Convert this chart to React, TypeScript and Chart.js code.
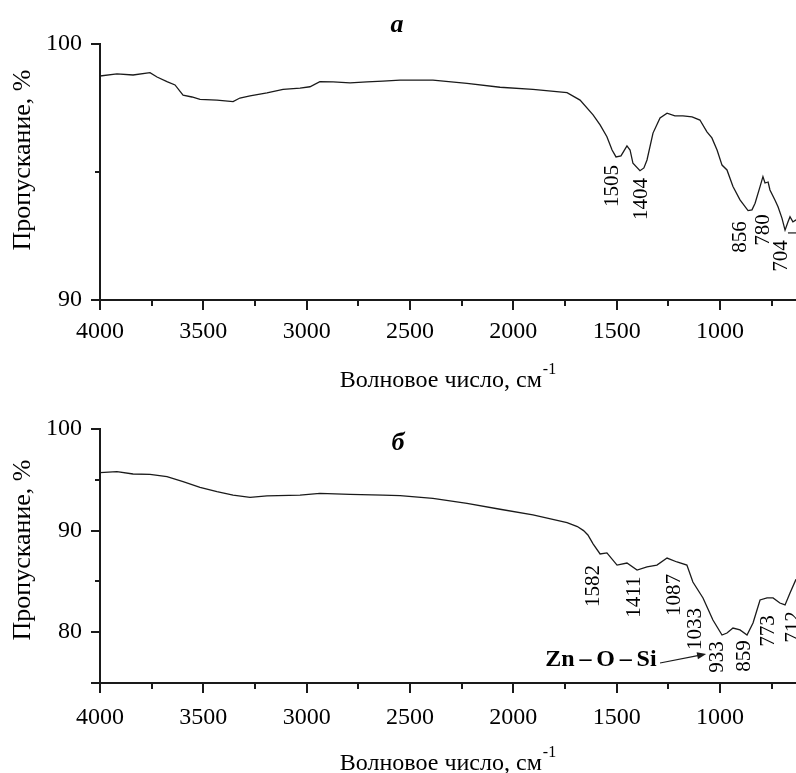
import React, { useEffect, useRef } from 'react';
import { Chart, registerables } from 'chart.js';

Chart.register(...registerables);

const FONT = "'Liberation Serif', 'Times New Roman', serif";
const INK = '#1a1a1a';
const TEXT = '#000000';

// ---- Panel а ----
const wavenumberA = [4000, 3918, 3840, 3758, 3724, 3676, 3637, 3598, 3555, 3516, 3434, 3356, 3323, 3274, 3192, 3114, 3032, 2984, 2936, 2872, 2790, 2708, 2631, 2548, 2389, 2224, 2064, 1905, 1740, 1677, 1614, 1580, 1547, 1522, 1503, 1479, 1450, 1435, 1421, 1387, 1368, 1353, 1324, 1290, 1256, 1218, 1179, 1135, 1097, 1063, 1039, 1014, 990, 966, 937, 903, 864, 845, 830, 806, 792, 782, 767, 758, 734, 719, 700, 685, 671, 661, 647, 632];
const transmittanceA = [98.75, 98.83, 98.79, 98.88, 98.71, 98.53, 98.4, 98.0, 97.93, 97.84, 97.81, 97.75, 97.89, 97.97, 98.09, 98.23, 98.28, 98.33, 98.53, 98.52, 98.48, 98.52, 98.55, 98.59, 98.59, 98.46, 98.31, 98.23, 98.1, 97.81, 97.23, 96.84, 96.38, 95.86, 95.59, 95.63, 96.02, 95.86, 95.34, 95.05, 95.16, 95.47, 96.52, 97.11, 97.3, 97.19, 97.19, 97.15, 97.03, 96.57, 96.33, 95.86, 95.27, 95.08, 94.43, 93.91, 93.49, 93.52, 93.78, 94.43, 94.82, 94.57, 94.61, 94.3, 93.91, 93.64, 93.2, 92.73, 93.05, 93.25, 93.05, 93.13];
const peakLabelsA = ['1505', '1404', '856', '780', '704'];
const peakPosXA = [1522, 1382, 903, 787, 700];
const peakPosYA = [94.45, 93.95, 92.46, 92.73, 91.72];
const yTicksA = [90, 100];
const yLabelsA = [90, 100];
const yMinorA = [95];

// ---- Panel б ----
const wavenumberB = [4000, 3918, 3840, 3758, 3676, 3598, 3516, 3434, 3356, 3274, 3192, 3032, 2936, 2790, 2631, 2548, 2389, 2224, 2064, 1905, 1740, 1690, 1660, 1639, 1614, 1580, 1547, 1498, 1450, 1401, 1353, 1305, 1256, 1208, 1160, 1131, 1082, 1034, 990, 966, 937, 903, 869, 840, 806, 772, 743, 710, 685, 661, 632];
const transmittanceB = [95.7, 95.8, 95.57, 95.54, 95.31, 94.81, 94.26, 93.83, 93.5, 93.28, 93.41, 93.5, 93.67, 93.57, 93.5, 93.45, 93.18, 92.69, 92.1, 91.54, 90.78, 90.4, 90.0, 89.57, 88.7, 87.7, 87.8, 86.61, 86.81, 86.12, 86.42, 86.61, 87.3, 86.91, 86.61, 84.94, 83.37, 81.2, 79.72, 79.92, 80.41, 80.22, 79.72, 80.91, 83.17, 83.37, 83.37, 82.87, 82.68, 83.86, 85.2];
const peakLabelsB = ['1582', '1411', '1087', '1033', '933', '859', '773', '712'];
const peakPosXB = [1610, 1416, 1222, 1116, 1014, 879, 763, 642];
const peakPosYB = [84.55, 83.46, 83.66, 80.31, 77.56, 77.66, 80.12, 80.51];
const yTicksB = [75, 80, 90, 100];
const yLabelsB = [80, 90, 100];
const yMinorB = [85, 95];
const bondLabelB = 'Zn\u2009–\u2009O\u2009–\u2009Si';
const bondLabelPos = [1576, 77.26];
const bondArrowFrom = [1290, 76.97];
const bondArrowTo = [1067, 77.85];

// ---- shared axis ----
const xMin = 632;
const xMax = 4000;
const xTickValues = [4000, 3500, 3000, 2500, 2000, 1500, 1000];
const xMinorTicks = [3750, 3250, 2750, 2250, 1750, 1250, 750];
const xTitle = 'Волновое число, см';
const xTitleSup = '-1';
const yTitle = 'Пропускание, %';

type PanelCfg = {
  top: number;
  height: number;
  wn: number[];
  tr: number[];
  yMin: number;
  yMax: number;
  yTicks: number[];
  yLabels: number[];
  yMinor: number[];
  padTop: number;
  xScaleHeight: number;
  xTickPad: number;
  letter: string;
  letterX: number;
  letterBase: number;
  yTitleCenter: number;
  labels: string[];
  labelX: number[];
  labelY: number[];
  leader?: [number, number, number];
  bond?: boolean;
};

function makeDecor(cfg: PanelCfg) {
  return {
    id: 'decor',
    afterDraw(chart: any) {
      const { ctx, chartArea } = chart;
      const x = chart.scales.x;
      const y = chart.scales.y;
      ctx.save();
      ctx.strokeStyle = INK;
      ctx.fillStyle = TEXT;
      ctx.lineWidth = 2;
      // minor ticks
      for (const v of xMinorTicks) {
        const px = Math.round(x.getPixelForValue(v));
        ctx.beginPath();
        ctx.moveTo(px, chartArea.bottom);
        ctx.lineTo(px, chartArea.bottom + 6);
        ctx.stroke();
      }
      for (const v of cfg.yMinor) {
        const py = Math.round(y.getPixelForValue(v));
        ctx.beginPath();
        ctx.moveTo(chartArea.left, py);
        ctx.lineTo(chartArea.left - 5, py);
        ctx.stroke();
      }
      // x title with superscript
      ctx.textAlign = 'left';
      ctx.textBaseline = 'alphabetic';
      ctx.font = `24px ${FONT}`;
      const w1 = ctx.measureText(xTitle).width;
      ctx.font = `16px ${FONT}`;
      const w2 = ctx.measureText(xTitleSup).width;
      const cx = (chartArea.left + chartArea.right) / 2;
      const x0 = cx - (w1 + w2 + 1) / 2;
      const base = chartArea.bottom + 87;
      ctx.font = `24px ${FONT}`;
      ctx.fillText(xTitle, x0, base);
      ctx.font = `16px ${FONT}`;
      ctx.fillText(xTitleSup, x0 + w1 + 1, base - 13);
      // y title
      ctx.save();
      ctx.translate(23, cfg.yTitleCenter);
      ctx.rotate(-Math.PI / 2);
      ctx.font = `26px ${FONT}`;
      ctx.textAlign = 'center';
      ctx.textBaseline = 'middle';
      ctx.fillText(yTitle, 0, 0);
      ctx.restore();
      // panel letter
      ctx.font = `italic bold 26px ${FONT}`;
      ctx.textAlign = 'center';
      ctx.textBaseline = 'alphabetic';
      ctx.fillText(cfg.letter, cfg.letterX, cfg.letterBase);
      // peak labels
      ctx.font = `21px ${FONT}`;
      ctx.textAlign = 'center';
      ctx.textBaseline = 'middle';
      cfg.labels.forEach((t, i) => {
        ctx.save();
        ctx.translate(x.getPixelForValue(cfg.labelX[i]), y.getPixelForValue(cfg.labelY[i]));
        ctx.rotate(-Math.PI / 2);
        ctx.fillText(t, 0, 0);
        ctx.restore();
      });
      if (cfg.leader) {
        const [a, b, v] = cfg.leader;
        ctx.lineWidth = 1.2;
        ctx.beginPath();
        ctx.moveTo(x.getPixelForValue(a), y.getPixelForValue(v));
        ctx.lineTo(x.getPixelForValue(b), y.getPixelForValue(v));
        ctx.stroke();
      }
      if (cfg.bond) {
        ctx.font = `bold 24px ${FONT}`;
        ctx.textAlign = 'center';
        ctx.textBaseline = 'middle';
        ctx.fillText(bondLabelB, x.getPixelForValue(bondLabelPos[0]), y.getPixelForValue(bondLabelPos[1]));
        const fx = x.getPixelForValue(bondArrowFrom[0]);
        const fy = y.getPixelForValue(bondArrowFrom[1]);
        const tx = x.getPixelForValue(bondArrowTo[0]);
        const ty = y.getPixelForValue(bondArrowTo[1]);
        const ang = Math.atan2(ty - fy, tx - fx);
        ctx.lineWidth = 1.2;
        ctx.beginPath();
        ctx.moveTo(fx, fy);
        ctx.lineTo(tx - 6 * Math.cos(ang), ty - 6 * Math.sin(ang));
        ctx.stroke();
        ctx.fillStyle = INK;
        ctx.beginPath();
        ctx.moveTo(tx, ty);
        ctx.lineTo(tx - 9 * Math.cos(ang) + 3.5 * Math.sin(ang), ty - 9 * Math.sin(ang) - 3.5 * Math.cos(ang));
        ctx.lineTo(tx - 9 * Math.cos(ang) - 3.5 * Math.sin(ang), ty - 9 * Math.sin(ang) + 3.5 * Math.cos(ang));
        ctx.closePath();
        ctx.fill();
      }
      ctx.restore();
    },
  };
}

function Panel({ cfg }: { cfg: PanelCfg }) {
  const ref = useRef<HTMLCanvasElement>(null);
  useEffect(() => {
    const canvas = ref.current;
    if (!canvas) return;
    const chart = new Chart(canvas, {
      type: 'line',
      data: {
        datasets: [
          {
            data: cfg.wn.map((w, i) => ({ x: w, y: cfg.tr[i] })),
            borderColor: INK,
            borderWidth: 1.3,
            pointRadius: 0,
            fill: false,
            tension: 0,
          },
        ],
      },
      options: {
        animation: false,
        responsive: false,
        devicePixelRatio: 1,
        layout: { padding: { top: cfg.padTop, left: 0, right: 0, bottom: 0 } },
        plugins: {
          legend: { display: false },
          tooltip: { enabled: false },
          title: { display: false },
        },
        scales: {
          x: {
            type: 'linear',
            reverse: true,
            min: xMin,
            max: xMax,
            afterBuildTicks: (s: any) => {
              s.ticks = xTickValues.map((value) => ({ value }));
            },
            afterFit: (s: any) => {
              s.height = cfg.xScaleHeight;
            },
            ticks: {
              color: TEXT,
              font: { family: FONT, size: 24 },
              padding: cfg.xTickPad,
              maxRotation: 0,
              autoSkip: false,
              callback: (v: any) => String(v),
            },
            grid: { drawOnChartArea: false, drawTicks: true, tickLength: 10, color: INK, lineWidth: 2 },
            border: { display: true, color: INK, width: 2 },
          },
          y: {
            type: 'linear',
            min: cfg.yMin,
            max: cfg.yMax,
            afterBuildTicks: (s: any) => {
              s.ticks = cfg.yTicks.map((value) => ({ value }));
            },
            afterFit: (s: any) => {
              s.width = 100;
            },
            ticks: {
              color: TEXT,
              font: { family: FONT, size: 24 },
              padding: 9,
              autoSkip: false,
              callback: (v: any) => (cfg.yLabels.includes(Number(v)) ? String(v) : ''),
            },
            grid: { drawOnChartArea: false, drawTicks: true, tickLength: 9, color: INK, lineWidth: 2 },
            border: { display: true, color: INK, width: 2 },
          },
        },
      },
      plugins: [makeDecor(cfg)],
    } as any);
    return () => chart.destroy();
  }, []);
  return (
    <canvas
      ref={ref}
      width={796}
      height={cfg.height}
      style={{ position: 'absolute', left: 0, top: cfg.top, width: 796, height: cfg.height }}
    />
  );
}

const panelA: PanelCfg = {
  top: 0,
  height: 400,
  wn: wavenumberA,
  tr: transmittanceA,
  yMin: 90,
  yMax: 100,
  yTicks: yTicksA,
  yLabels: yLabelsA,
  yMinor: yMinorA,
  padTop: 44,
  xScaleHeight: 100,
  xTickPad: 7,
  letter: 'а',
  letterX: 397,
  letterBase: 32,
  yTitleCenter: 160,
  labels: peakLabelsA,
  labelX: peakPosXA,
  labelY: peakPosYA,
  leader: [671, 632, 92.62],
};

const panelB: PanelCfg = {
  top: 400,
  height: 373,
  wn: wavenumberB,
  tr: transmittanceB,
  yMin: 75,
  yMax: 100,
  yTicks: yTicksB,
  yLabels: yLabelsB,
  yMinor: yMinorB,
  padTop: 29,
  xScaleHeight: 90,
  xTickPad: 10,
  letter: 'б',
  letterX: 398,
  letterBase: 50,
  yTitleCenter: 150,
  labels: peakLabelsB,
  labelX: peakPosXB,
  labelY: peakPosYB,
  bond: true,
};

export default function App() {
  return (
    <div
      style={{
        position: 'absolute',
        left: 0,
        top: 0,
        width: 796,
        height: 773,
        background: '#ffffff',
        overflow: 'hidden',
      }}
    >
      <Panel cfg={panelA} />
      <Panel cfg={panelB} />
    </div>
  );
}
